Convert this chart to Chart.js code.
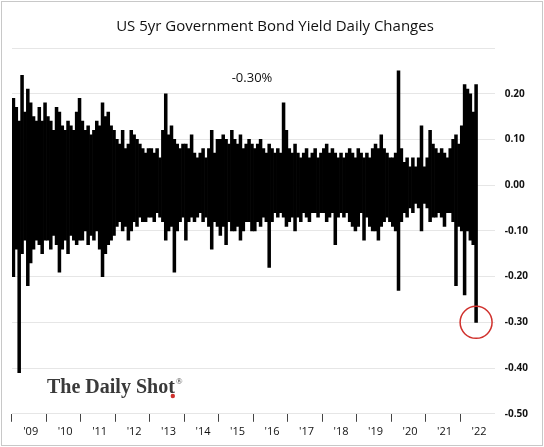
<!DOCTYPE html>
<html>
<head>
<meta charset="utf-8">
<script src="https://cdn.jsdelivr.net/npm/chart.js@4"></script>
<style>
  body { margin: 0; background: #fff; }
  #wrap { position: absolute; left: 1px; top: 1px; width: 540px; height: 443px; border: 1px solid #c8c8c8; }
</style>
</head>
<body>
<div id="wrap"><canvas id="yieldChart"></canvas></div>
<script>
// monthly high / low of daily yield changes (%), Jan 2009 - Jun 2022
var years = ["'09","'10","'11","'12","'13","'14","'15","'16","'17","'18","'19","'20","'21","'22"];
var highs = [
  .19,.17,.14,.24,.16,.21,.18,.15,.14,.17,.14,.18,
  .15,.14,.12,.17,.16,.13,.12,.14,.13,.12,.16,.19,
  .14,.12,.13,.11,.12,.14,.13,.18,.15,.16,.13,.12,
  .10,.09,.12,.08,.09,.12,.11,.10,.09,.08,.07,.08,
  .08,.07,.08,.06,.12,.20,.11,.13,.10,.09,.08,.09,
  .09,.08,.11,.07,.06,.07,.08,.06,.08,.12,.07,.10,
  .10,.11,.10,.09,.12,.10,.09,.11,.08,.09,.10,.09,
  .08,.09,.10,.08,.07,.09,.08,.07,.08,.07,.18,.12,
  .08,.07,.09,.07,.06,.07,.08,.06,.07,.08,.06,.07,
  .08,.09,.07,.08,.07,.06,.07,.06,.07,.08,.07,.06,
  .08,.07,.06,.07,.06,.08,.09,.08,.11,.08,.07,.06,
  .06,.07,.25,.08,.05,.06,.04,.06,.04,.06,.13,.04,
  .06,.12,.09,.08,.07,.08,.07,.06,.08,.10,.11,.09,
  .13,.22,.21,.20,.16,.22
];
var lows = [
  -.20,-.14,-.41,-.15,-.12,-.22,-.17,-.14,-.12,-.13,-.15,-.12,
  -.12,-.14,-.11,-.13,-.19,-.14,-.12,-.15,-.11,-.12,-.13,-.12,
  -.12,-.10,-.13,-.11,-.12,-.10,-.14,-.20,-.15,-.13,-.12,-.11,
  -.09,-.08,-.10,-.09,-.12,-.10,-.08,-.09,-.07,-.08,-.08,-.07,
  -.07,-.08,-.06,-.07,-.08,-.12,-.10,-.09,-.19,-.10,-.08,-.07,
  -.12,-.08,-.07,-.08,-.07,-.06,-.08,-.07,-.09,-.14,-.08,-.09,
  -.11,-.09,-.13,-.08,-.10,-.10,-.09,-.12,-.10,-.08,-.08,-.10,
  -.10,-.08,-.09,-.07,-.08,-.18,-.08,-.06,-.07,-.06,-.07,-.09,
  -.08,-.07,-.10,-.07,-.08,-.06,-.07,-.08,-.06,-.06,-.07,-.06,
  -.06,-.08,-.07,-.06,-.13,-.07,-.06,-.07,-.06,-.08,-.09,-.10,
  -.09,-.06,-.12,-.07,-.09,-.10,-.10,-.12,-.09,-.08,-.07,-.08,
  -.09,-.10,-.23,-.08,-.06,-.07,-.05,-.06,-.04,-.05,-.10,-.04,
  -.05,-.08,-.07,-.07,-.06,-.07,-.09,-.06,-.06,-.08,-.22,-.09,
  -.10,-.24,-.10,-.12,-.13,-.30
];
var lastChange = -0.30;

var labels = [];
var ranges = [];
for (var i = 0; i < highs.length; i++) {
  labels.push(years[Math.floor(i / 12)]);
  ranges.push([lows[i], highs[i]]);
}
// pad to end of 2022 so the axis covers the full year
for (var j = highs.length; j < years.length * 12; j++) { labels.push(years[Math.floor(j / 12)]); ranges.push(null); }

var extras = {
  id: 'extras',
  afterDraw: function(chart) {
    var c = chart.ctx, x = chart.scales.x, y = chart.scales.y;
    c.save();
    c.fillStyle = '#111';
    c.font = '13px "Open Sans", sans-serif';
    c.textAlign = 'center';
    c.fillText(lastChange.toFixed(2) + '%', 250, 80);
    // red circle on latest value
    var px = x.getPixelForValue(highs.length - 1), py = y.getPixelForValue(lastChange);
    c.strokeStyle = '#d0312d'; c.lineWidth = 1.5;
    c.beginPath(); c.arc(px, py, 16, 0, Math.PI * 2); c.stroke();
    // watermark
    c.textAlign = 'left';
    c.fillStyle = '#3a3a3a';
    c.font = 'bold 20px "Liberation Serif", serif';
    var txt = 'The Daily Shot';
    c.fillText(txt, 45, 391);
    var w = c.measureText(txt).width;
    c.font = '9px "Liberation Serif", serif';
    c.fillText('®', 45 + w + 1, 382);
    c.fillStyle = '#d0312d';
    c.beginPath(); c.arc(45 + w - 2, 394, 2.2, 0, Math.PI * 2); c.fill();
    c.restore();
  }
};

new Chart(document.getElementById('yieldChart'), {
  type: 'bar',
  data: {
    labels: labels,
    datasets: [{ data: ranges, backgroundColor: '#000', borderWidth: 0, barPercentage: 1, categoryPercentage: 1 }]
  },
  options: {
    animation: false,
    responsive: true,
    maintainAspectRatio: false,
    layout: { padding: { left: 10, right: 4, bottom: 4 } },
    plugins: {
      legend: { display: false },
      tooltip: { enabled: false },
      title: { display: true, text: 'US 5yr Government Bond Yield Daily Changes', color: '#111',
        font: { family: '"Open Sans", sans-serif', size: 15, weight: 'normal' }, padding: { top: 16, bottom: 12 } }
    },
    scales: {
      x: {
        grid: { drawOnChartArea: false, tickLength: 8,
          color: function(ctx) { return ctx.index % 12 === 0 ? '#444' : 'rgba(0,0,0,0)'; } },
        border: { display: false },
        ticks: { autoSkip: false, maxRotation: 0, color: '#111', font: { size: 11, family: '"Open Sans", sans-serif' },
          callback: function(v, i) { return i % 12 === 6 ? this.getLabelForValue(v) : ''; } }
      },
      y: {
        position: 'right',
        min: -0.5, max: 0.3,
        grid: { color: '#e6e6e6', drawTicks: false },
        border: { display: false },
        ticks: { stepSize: 0.1, padding: 10, color: '#111', font: { size: 10, weight: 'bold', family: '"Open Sans", sans-serif' },
          callback: function(v) { return v >= 0.29 ? '' : v.toFixed(2); } }
      }
    }
  },
  plugins: [extras]
});
</script>
</body>
</html>
